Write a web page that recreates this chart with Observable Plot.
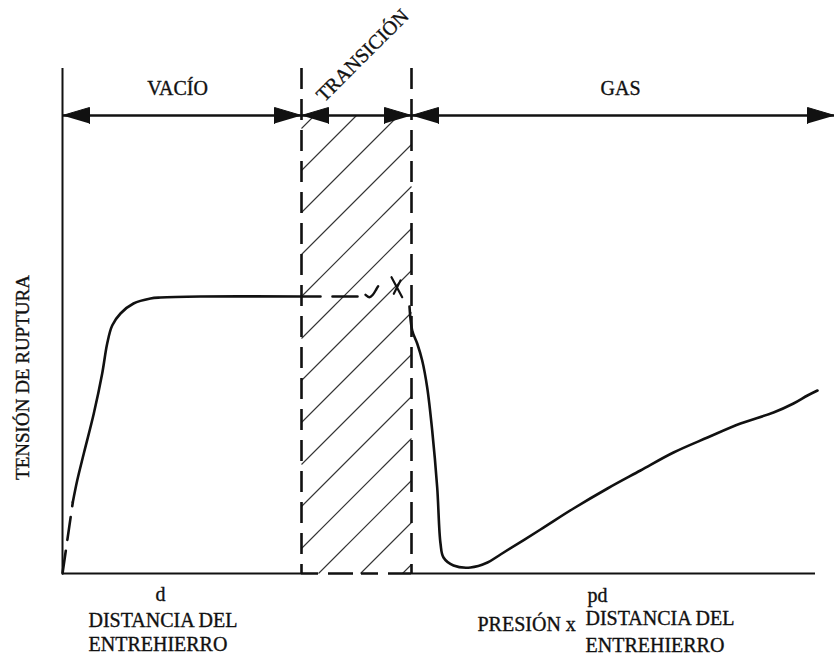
<!DOCTYPE html>
<html><head><meta charset="utf-8">
<script src="https://cdn.jsdelivr.net/npm/d3@7"></script>
<script src="https://cdn.jsdelivr.net/npm/@observablehq/plot@0.6"></script>
<style>body{margin:0;background:#fff} svg text{font-family:"Liberation Serif","Times New Roman",serif !important;}</style>
</head><body><div id="chart"></div>
<script>
// Regions along the horizontal axis (abstract units)
const regionNames = ["VACÍO", "TRANSICIÓN", "GAS"];
const regionBounds = [0, 239, 349, 772];
const axisTop = 505;      // top of the vertical lines
const arrowLevel = 458;   // height of the region arrows
const axisEnd = 753;      // end of the horizontal axis

// Breakdown-voltage curve
const vacuumDashX = [0, 10.3];
const vacuumDashY = [0, 71.3];
const vacuumX = [10.3, 14.7, 21.3, 31.3, 39.7, 44.7, 49.7, 58, 71, 88, 98, 138, 239];
const vacuumY = [71.3, 93, 120, 160, 200, 230, 248, 260, 270, 275, 276, 277, 277];
const plateauDashX = [239, 298];
const plateauDashY = [277, 277];
const checkX = [303, 307, 310.3, 313.7, 315.7];
const checkY = [278.7, 276.3, 278.7, 284, 287.3];
const crossA_X = [329, 339.7], crossA_Y = [296.3, 276.3];
const crossB_X = [331.3, 338], crossB_Y = [279.7, 293];
const gasX = [347, 349.7, 354.7, 359.7, 364.7, 369.7, 374.7, 378, 381, 391, 408, 425, 438, 478, 511, 545, 578, 611, 645, 678, 711, 731, 745, 755];
const gasY = [267, 243, 230, 213, 186, 143, 86, 30, 16, 8, 6, 11, 19, 44, 65, 85, 103, 121, 136, 150, 161, 170, 178, 183];

// Axis labels
const yLabel = "TENSIÓN DE RUPTURA";
const leftXLabel = "d";
const leftXTitle = "DISTANCIA DEL\nENTREHIERRO";
const rightXLabel = "pd";
const rightXPrefix = "PRESIÓN x";
const rightXTitle = "DISTANCIA DEL\nENTREHIERRO";

const toPts = (xs, ys) => xs.map((x, i) => ({x, y: ys[i]}));

// hatch lines inside the transition region (45°, x - y = c)
const hatch = [];
for (let c = 340; c > regionBounds[1] - arrowLevel; c -= 42) {
  const xs = Math.max(regionBounds[1], c), xe = Math.min(regionBounds[2], c + arrowLevel);
  if (xs < xe) hatch.push({x1: xs, y1: xs - c, x2: xe, y2: xe - c});
}

// arrowheads: each region has a head at both ends
const L = 27, H = 8;
const heads = [];
regionNames.forEach((n, i) => {
  [[regionBounds[i], -1], [regionBounds[i + 1], 1]].forEach(([t, d], j) => {
    const id = n + j;
    heads.push({id, x: t, y: arrowLevel}, {id, x: t - d * L, y: arrowLevel + H}, {id, x: t - d * L, y: arrowLevel - H});
  });
});

const ink = "#111";
const font = {fontFamily: "Liberation Serif", fontSize: 20, fill: ink, stroke: ink, strokeWidth: 0.35};

const chart = Plot.plot({
  width: 834, height: 657,
  marginLeft: 62, marginRight: 0, marginTop: 0, marginBottom: 84,
  x: {domain: [0, 772], axis: null},
  y: {domain: [0, 573], axis: null},
  style: {background: "#fff", fontFamily: "Liberation Serif"},
  marks: [
    Plot.link(hatch, {x1: "x1", y1: "y1", x2: "x2", y2: "y2", stroke: "#333", strokeWidth: 1.1}),
    Plot.ruleX([regionBounds[0]], {y1: 0, y2: axisTop, stroke: ink, strokeWidth: 2}),
    Plot.ruleX([regionBounds[1], regionBounds[2]], {y1: axisTop, y2: 0, stroke: ink, strokeWidth: 2.6, strokeDasharray: "21,10"}),
    Plot.ruleY([0], {x1: regionBounds[0], x2: regionBounds[1], stroke: ink, strokeWidth: 2}),
    Plot.ruleY([0], {x1: regionBounds[2], x2: axisEnd, stroke: ink, strokeWidth: 2}),
    Plot.ruleY([0], {x1: regionBounds[1], x2: regionBounds[2], stroke: ink, strokeWidth: 2.6, strokeDasharray: "17,10,25,8"}),
    Plot.ruleY([arrowLevel], {x1: regionBounds[0], x2: regionBounds[3], stroke: ink, strokeWidth: 2.6}),
    Plot.line(heads, {x: "x", y: "y", z: "id", fill: ink, stroke: ink, strokeWidth: 1}),
    Plot.line(toPts(vacuumDashX, vacuumDashY), {x: "x", y: "y", stroke: ink, strokeWidth: 2.6, strokeDasharray: "23,11"}),
    Plot.line(toPts(vacuumX, vacuumY), {x: "x", y: "y", stroke: ink, strokeWidth: 2.6, curve: "catmull-rom"}),
    Plot.line(toPts(plateauDashX, plateauDashY), {x: "x", y: "y", stroke: ink, strokeWidth: 2.6, strokeDasharray: "19,12,25,200"}),
    Plot.line(toPts(checkX, checkY), {x: "x", y: "y", stroke: ink, strokeWidth: 2.4, curve: "catmull-rom"}),
    Plot.line(toPts(crossA_X, crossA_Y), {x: "x", y: "y", stroke: ink, strokeWidth: 2.2}),
    Plot.line(toPts(crossB_X, crossB_Y), {x: "x", y: "y", stroke: ink, strokeWidth: 2.2}),
    Plot.line(toPts(gasX, gasY), {x: "x", y: "y", stroke: ink, strokeWidth: 2.6, curve: "catmull-rom"}),
    // region labels
    Plot.text([regionNames[0]], {x: 115, y: 485, text: d => d, ...font}),
    Plot.text([regionNames[1]], {x: 300, y: 518, text: d => d, rotate: -45, ...font}),
    Plot.text([regionNames[2]], {x: 558, y: 485, text: d => d, ...font}),
    // axis labels
    Plot.text([yLabel], {x: -40, y: 196, text: d => d, rotate: -90, ...font, fontSize: 19}),
    Plot.text([leftXLabel], {x: 98, y: -21, text: d => d, ...font}),
    Plot.text([leftXTitle], {x: 26, y: -58, text: d => d, textAnchor: "start", lineHeight: 1.17, ...font}),
    Plot.text([rightXLabel], {x: 535, y: -22, text: d => d, ...font}),
    Plot.text([rightXPrefix], {x: 415, y: -51, text: d => d, textAnchor: "start", ...font}),
    Plot.text([rightXTitle], {x: 523, y: -56, text: d => d, textAnchor: "start", lineHeight: 1.35, ...font})
  ]
});
document.getElementById("chart").appendChild(chart);
</script>
</body></html>
